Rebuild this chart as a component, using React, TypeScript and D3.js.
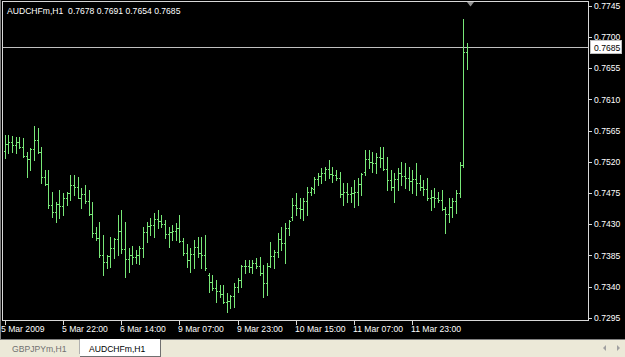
import React from "react";
import * as d3 from "d3";

const symbolTitle = "AUDCHFm,H1  0.7678 0.7691 0.7654 0.7685";
const bidPrice = 0.7685;

const highs = [
  0.7558, 0.7558, 0.7557, 0.7555, 0.7555, 0.7554, 0.7534, 0.754, 0.7571, 0.7569,
  0.7541, 0.7508, 0.7508, 0.7476, 0.7462, 0.7479, 0.7475, 0.7476, 0.7501, 0.7501,
  0.7498, 0.7482, 0.7486, 0.7479, 0.7462, 0.7426, 0.7433, 0.7414, 0.7385, 0.7411,
  0.741, 0.7443, 0.745, 0.7433, 0.7396, 0.7398, 0.7392, 0.7398, 0.7426, 0.7433,
  0.7439, 0.7446, 0.745, 0.7443, 0.7436, 0.7426, 0.7429, 0.7432, 0.7443, 0.741,
  0.7402, 0.7395, 0.7407, 0.7411, 0.7411, 0.7414, 0.7359, 0.7356, 0.7349, 0.7342,
  0.7342, 0.7331, 0.7328, 0.7345, 0.7352, 0.7371, 0.7378, 0.7378, 0.7378, 0.7381,
  0.7382, 0.7371, 0.7374, 0.7404, 0.7392, 0.7417, 0.7426, 0.7432, 0.7436, 0.7467,
  0.7475, 0.7467, 0.7467, 0.7483, 0.7483, 0.7498, 0.7504, 0.7511, 0.7512, 0.7522,
  0.7512, 0.7508, 0.7505, 0.7489, 0.7489, 0.7483, 0.7494, 0.7496, 0.7504, 0.7537,
  0.7537, 0.7534, 0.7532, 0.7541, 0.7541, 0.7527, 0.7508, 0.7504, 0.7511, 0.752,
  0.7518, 0.7512, 0.7508, 0.7518, 0.7501, 0.7494, 0.7496, 0.7479, 0.7482, 0.7476,
  0.7479, 0.7455, 0.7468, 0.7468, 0.7479, 0.752, 0.7726, 0.7691,
];

const lows = [
  0.7525, 0.7532, 0.7534, 0.7532, 0.754, 0.7527, 0.7498, 0.7508, 0.7522, 0.7532,
  0.7489, 0.7487, 0.7453, 0.744, 0.7433, 0.7439, 0.7443, 0.7457, 0.7465, 0.7472,
  0.7468, 0.7453, 0.7461, 0.7443, 0.7411, 0.7407, 0.7382, 0.7356, 0.7366, 0.7368,
  0.7381, 0.7385, 0.7389, 0.7354, 0.7361, 0.7372, 0.7374, 0.7372, 0.7382, 0.7404,
  0.7414, 0.7411, 0.7424, 0.7426, 0.741, 0.7397, 0.7407, 0.7407, 0.7404, 0.7385,
  0.7368, 0.7361, 0.7366, 0.7382, 0.7366, 0.7364, 0.7332, 0.7335, 0.7317, 0.7325,
  0.7316, 0.7303, 0.7309, 0.7311, 0.7332, 0.7339, 0.7359, 0.7361, 0.7359, 0.7366,
  0.7356, 0.7325, 0.7328, 0.7368, 0.7366, 0.7382, 0.7392, 0.7374, 0.7414, 0.7436,
  0.7443, 0.7439, 0.7436, 0.7443, 0.7472, 0.7475, 0.7486, 0.7489, 0.7494, 0.7496,
  0.7491, 0.7494, 0.7469, 0.7457, 0.7462, 0.7462, 0.7455, 0.7457, 0.7472, 0.7501,
  0.7511, 0.7505, 0.7504, 0.7512, 0.7508, 0.7479, 0.7479, 0.7462, 0.7479, 0.7486,
  0.7482, 0.7479, 0.7475, 0.7472, 0.7479, 0.7472, 0.7465, 0.745, 0.7455, 0.7462,
  0.745, 0.7417, 0.7433, 0.744, 0.7446, 0.7469, 0.7512, 0.7654,
];

const opens = [
  0.7535, 0.7545, 0.7548, 0.7544, 0.7548, 0.7541, 0.7528, 0.7524, 0.7538, 0.7551,
  0.7534, 0.7498, 0.7488, 0.7458, 0.7448, 0.7459, 0.7456, 0.7467, 0.7475, 0.7487,
  0.7483, 0.7468, 0.7474, 0.7464, 0.7445, 0.7417, 0.741, 0.7385, 0.7376, 0.7384,
  0.7396, 0.7408, 0.742, 0.7394, 0.7379, 0.7385, 0.7383, 0.7386, 0.7396, 0.7419,
  0.7427, 0.7429, 0.7437, 0.7435, 0.743, 0.7415, 0.7418, 0.742, 0.7424, 0.7406,
  0.7388, 0.7378, 0.7387, 0.7397, 0.7389, 0.7386, 0.7356, 0.7346, 0.7338, 0.7334,
  0.7329, 0.7317, 0.7319, 0.7326, 0.734, 0.735, 0.7369, 0.737, 0.7368, 0.7374,
  0.737, 0.736, 0.7345, 0.737, 0.7384, 0.739, 0.7408, 0.7403, 0.7424, 0.744,
  0.7458, 0.7453, 0.7452, 0.7463, 0.7476, 0.748, 0.7495, 0.75, 0.7503, 0.7509,
  0.7502, 0.7501, 0.7496, 0.7473, 0.7476, 0.7473, 0.7475, 0.7477, 0.7488, 0.7505,
  0.7524, 0.752, 0.7518, 0.7527, 0.7525, 0.751, 0.7494, 0.7483, 0.7495, 0.7503,
  0.75, 0.7496, 0.7492, 0.7495, 0.749, 0.7483, 0.7481, 0.7468, 0.7469, 0.7467,
  0.7465, 0.7452, 0.7445, 0.7454, 0.7463, 0.7475, 0.7515, 0.7678,
];

const closes = [
  0.7545, 0.7548, 0.7544, 0.7548, 0.7541, 0.7528, 0.7524, 0.7538, 0.7551, 0.7534,
  0.7498, 0.7488, 0.7458, 0.7448, 0.7459, 0.7456, 0.7467, 0.7475, 0.7487, 0.7483,
  0.7468, 0.7474, 0.7464, 0.7445, 0.7417, 0.741, 0.7385, 0.7376, 0.7384, 0.7396,
  0.7408, 0.742, 0.7394, 0.7379, 0.7385, 0.7383, 0.7386, 0.7396, 0.7419, 0.7427,
  0.7429, 0.7437, 0.7435, 0.743, 0.7415, 0.7418, 0.742, 0.7424, 0.7406, 0.7388,
  0.7378, 0.7387, 0.7397, 0.7389, 0.7386, 0.7366, 0.7346, 0.7338, 0.7334, 0.7329,
  0.7317, 0.7319, 0.7326, 0.734, 0.735, 0.7369, 0.737, 0.7368, 0.7374, 0.737,
  0.736, 0.7345, 0.737, 0.7384, 0.739, 0.7408, 0.7403, 0.7424, 0.7434, 0.7458,
  0.7453, 0.7452, 0.7463, 0.7476, 0.7482, 0.7495, 0.75, 0.7503, 0.7509, 0.7502,
  0.7501, 0.7496, 0.7473, 0.7476, 0.7473, 0.7475, 0.7477, 0.7488, 0.7502, 0.7524,
  0.752, 0.7518, 0.7527, 0.7525, 0.751, 0.7494, 0.7483, 0.7495, 0.7503, 0.75,
  0.7496, 0.7492, 0.7495, 0.749, 0.7483, 0.7481, 0.7468, 0.7469, 0.7467, 0.7465,
  0.7452, 0.7445, 0.7454, 0.7463, 0.7475, 0.7515, 0.7678, 0.7685,
];

const priceTicks = [0.7745, 0.77, 0.7655, 0.761, 0.7565, 0.752, 0.7475, 0.743, 0.7385, 0.734, 0.7295];

const timeTickIndex = [0, 16, 32, 48, 64, 80, 96, 112];
const timeTickLabels = [
  "5 Mar 2009",
  "5 Mar 22:00",
  "6 Mar 14:00",
  "9 Mar 07:00",
  "9 Mar 23:00",
  "10 Mar 15:00",
  "11 Mar 07:00",
  "11 Mar 23:00",
];

const tabs = ["GBPJPYm,H1", "AUDCHFm,H1"];

const W = 625;
const H = 357;
const FONT = "'Liberation Sans', Arial, sans-serif";
const BAR = "#78e878";

export default function App() {
  const x = d3.scaleLinear().domain([0, highs.length - 1]).range([4.8, 467]);
  const y = d3.scaleLinear().domain([0.7295, 0.7745]).range([317.7, 5.7]);
  const fmt = d3.format(".4f");

  const px = (i: number) => Math.round(x(i)) + 0.5;
  const py = (v: number) => Math.round(y(v)) + 0.5;

  return (
    <svg
      width={W}
      height={H}
      style={{ position: "fixed", left: 0, top: 0, display: "block" }}
      fontFamily={FONT}
    >
      <rect x={0} y={0} width={W} height={339} fill="#000" />
      {/* chart frame */}
      <rect x={2.5} y={1.5} width={586} height={319} fill="none" stroke="#d8d8d8" strokeWidth={1} />
      <line x1={0.5} y1={0} x2={0.5} y2={339} stroke="#808080" />

      {/* bid line */}
      <line x1={3} x2={588} y1={py(bidPrice)} y2={py(bidPrice)} stroke="#c0c0c0" strokeWidth={1} />

      {/* bars */}
      <g stroke={BAR} strokeWidth={1} shapeRendering="crispEdges">
        {highs.map((h, i) => {
          const cx = px(i);
          return (
            <g key={i}>
              <line x1={cx} x2={cx} y1={Math.round(y(h))} y2={Math.round(y(lows[i])) + 1} />
              <line x1={cx - 1.5} x2={cx} y1={py(opens[i])} y2={py(opens[i])} />
              <line x1={cx} x2={cx + 1.5} y1={py(closes[i])} y2={py(closes[i])} />
            </g>
          );
        })}
      </g>

      {/* shift marker */}
      <path d="M467,2 L474,2 L470.5,6.5 Z" fill="#909090" />

      {/* header text */}
      <text x={7} y={13.5} fill="#ffffff" fontSize={8.6} style={{ whiteSpace: "pre" }}>
        {symbolTitle}
      </text>

      {/* price axis */}
      {priceTicks.map((p) => (
        <g key={p}>
          <line x1={589} x2={592} y1={py(p)} y2={py(p)} stroke="#d8d8d8" />
          <text x={594} y={y(p) + 3.2} fill="#ffffff" fontSize={8.6}>
            {fmt(p)}
          </text>
        </g>
      ))}
      <rect x={590.5} y={Math.round(y(bidPrice)) - 6.5} width={31} height={13} fill="#ffffff" stroke="#c0c0c0" />
      <text x={594} y={y(bidPrice) + 3.2} fill="#000" fontSize={8.6}>
        {fmt(bidPrice)}
      </text>

      {/* time axis */}
      {timeTickIndex.map((idx, k) => (
        <g key={idx}>
          <line x1={px(idx)} x2={px(idx)} y1={321} y2={325} stroke="#d8d8d8" />
          <text x={k === 0 ? 1 : px(idx) - 1.5} y={332} fill="#ffffff" fontSize={8.6}>
            {timeTickLabels[k]}
          </text>
        </g>
      ))}

      {/* tab bar */}
      <rect x={0} y={339} width={W} height={18} fill="#ece9d8" />
      <line x1={0} x2={W} y1={339.5} y2={339.5} stroke="#808080" />
      <text x={12} y={352} fill="#707070" fontSize={8.6}>
        {tabs[0]}
      </text>
      <line x1={79.5} x2={79.5} y1={340} y2={354} stroke="#b0b0b0" />
      <rect x={80} y={339} width={80} height={17} fill="#ffffff" />
      <line x1={160.5} x2={160.5} y1={339} y2={356} stroke="#707070" />
      <line x1={80} x2={161} y1={356.5} y2={356.5} stroke="#707070" />
      <text x={89} y={352} fill="#000" fontSize={8.6}>
        {tabs[1]}
      </text>
      <path d="M606,345 L606,351 L603,348 Z" fill="#a0a0a0" />
      <path d="M617,345 L617,351 L620,348 Z" fill="#a0a0a0" />
    </svg>
  );
}
